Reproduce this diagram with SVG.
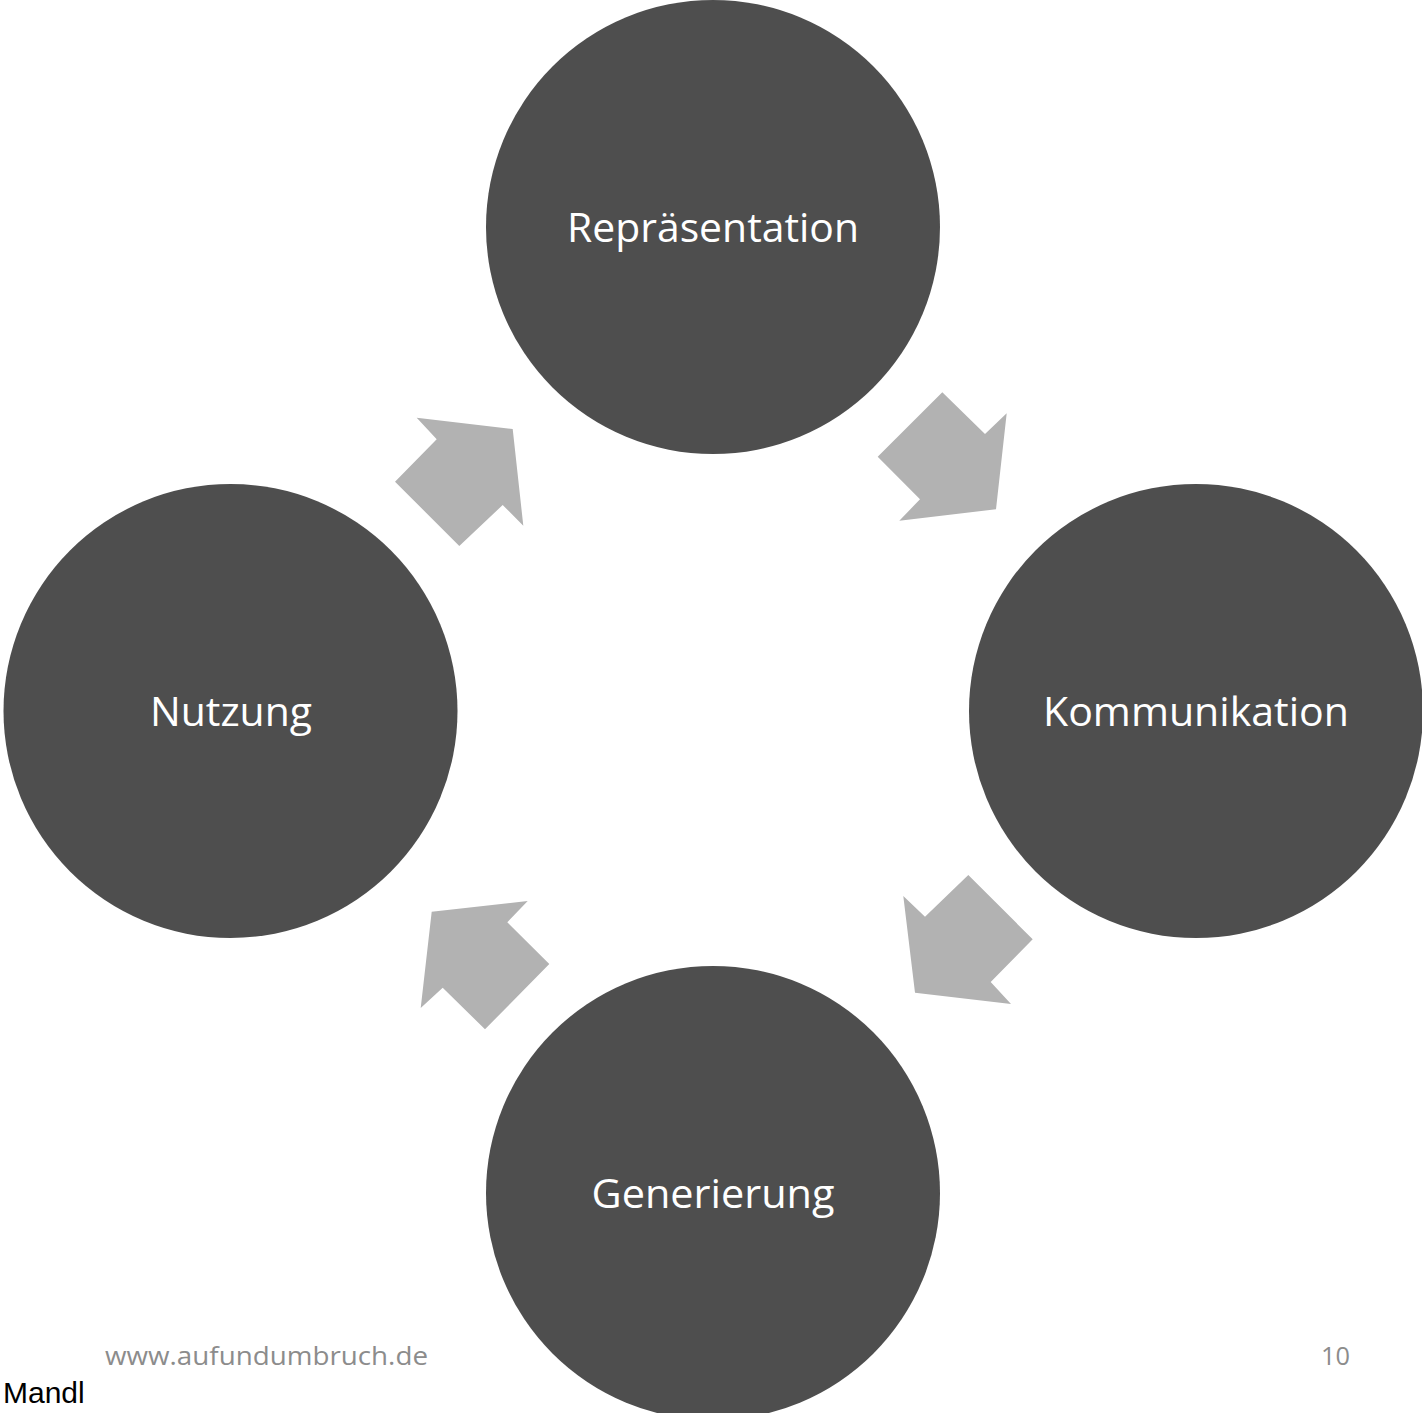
<svg xmlns="http://www.w3.org/2000/svg" width="1422" height="1413" viewBox="0 0 1422 1413">
<style>
.node{fill:#4e4e4e}
.lbl{font-family:"Open Sans","Noto Sans","DejaVu Sans",sans-serif;font-size:41px;fill:#ffffff;text-anchor:middle}
.arr{fill:#b2b2b2}
.foot{font-family:"Open Sans","Noto Sans",sans-serif;font-size:25px;fill:#8c8c8c}
</style>
<rect width="1422" height="1413" fill="#ffffff"/>
<g id="connectors">
<polygon class="arr" points="877.7,456.7 942.3,392.3 985,434 1006.7,413.3 996,509.3 899.3,520.7 920,499.3"/>
<polygon class="arr" points="968.3,875 1032.7,939.3 990.7,982 1011,1004 915,992.7 903.3,896 925,916.7"/>
<polygon class="arr" points="431.7,911.7 527.7,901 507.3,922.3 549.3,964 485,1029.3 442.7,987.7 420.7,1008"/>
<polygon class="arr" points="416.7,417.7 512.7,429 523.3,525.7 502.7,505 459.3,546 395,481.7 436.7,439.3"/>
</g>
<g id="node-repraesentation">
<circle class="node" cx="713" cy="227" r="227"/>
<text class="lbl" x="713" y="242" textLength="292" lengthAdjust="spacingAndGlyphs">Repräsentation</text>
</g>
<g id="node-kommunikation">
<circle class="node" cx="1196" cy="711" r="227"/>
<text class="lbl" x="1196" y="726" textLength="306" lengthAdjust="spacingAndGlyphs">Kommunikation</text>
</g>
<g id="node-generierung">
<circle class="node" cx="713" cy="1193" r="227"/>
<text class="lbl" x="713" y="1208" textLength="243" lengthAdjust="spacingAndGlyphs">Generierung</text>
</g>
<g id="node-nutzung">
<circle class="node" cx="230.5" cy="711" r="227"/>
<text class="lbl" x="231" y="726" textLength="162" lengthAdjust="spacingAndGlyphs">Nutzung</text>
</g>
<text class="foot" x="105" y="1365" textLength="323" lengthAdjust="spacingAndGlyphs">www.aufundumbruch.de</text>
<text class="foot" x="1321" y="1365" textLength="29" lengthAdjust="spacingAndGlyphs">10</text>
<text x="3" y="1403" style="font-family:'Liberation Sans',Arial,sans-serif;font-size:30px;fill:#000000">Mandl</text>
</svg>
